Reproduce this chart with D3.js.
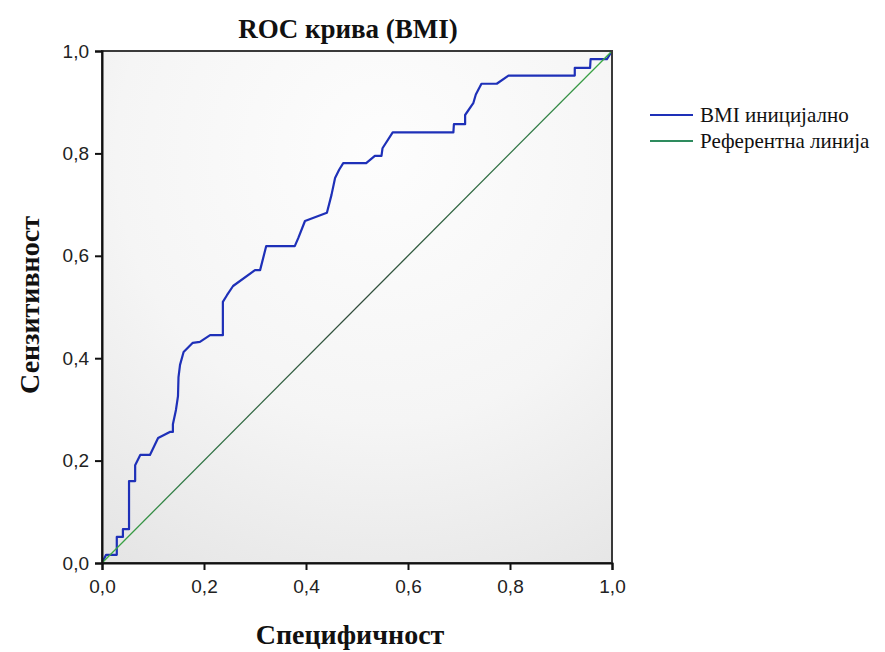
<!DOCTYPE html>
<html><head><meta charset="utf-8">
<script src="https://cdn.jsdelivr.net/npm/d3@7/dist/d3.min.js"></script>
<style>body{margin:0;background:#fff}svg{display:block}</style>
</head><body>
<svg id="c" width="885" height="652"></svg>
<script>
const title = "ROC крива (BMI)";
const xLabel = "Специфичност";
const yLabel = "Сензитивност";
const seriesNames = ["BMI иницијално", "Референтна линија"];
const tickValues = [0, 0.2, 0.4, 0.6, 0.8, 1.0];
const tickLabels = ["0,0", "0,2", "0,4", "0,6", "0,8", "1,0"];
// ROC curve points: [1 - specificity, sensitivity]
const rocX = [0,0.008,0.008,0.029,0.029,0.041,0.041,0.053,0.053,0.065,0.065,0.075,0.094,0.110,0.133,0.139,0.139,0.145,0.149,0.150,0.153,0.160,0.178,0.192,0.212,0.237,0.237,0.245,0.257,0.300,0.310,0.322,0.378,0.385,0.398,0.441,0.450,0.457,0.465,0.473,0.518,0.535,0.548,0.550,0.570,0.689,0.690,0.712,0.712,0.728,0.733,0.744,0.774,0.797,0.927,0.927,0.957,0.958,0.990,1.0];
const rocY = [0,0.016,0.016,0.016,0.051,0.051,0.066,0.066,0.160,0.160,0.191,0.211,0.211,0.244,0.256,0.256,0.271,0.299,0.326,0.363,0.387,0.412,0.430,0.432,0.445,0.445,0.510,0.523,0.541,0.572,0.572,0.619,0.619,0.635,0.668,0.684,0.719,0.752,0.768,0.781,0.781,0.795,0.795,0.810,0.841,0.841,0.857,0.857,0.875,0.898,0.915,0.936,0.936,0.952,0.952,0.967,0.967,0.984,0.984,1.0];
const refX = [0, 1];
const refY = [0, 1];

const svg = d3.select("#c");
const M = {l:102, t:51, r:612, b:563};
const x = d3.scaleLinear().domain([0,1]).range([M.l, M.r]);
const y = d3.scaleLinear().domain([0,1]).range([M.b, M.t]);

const defs = svg.append("defs");
const bg = defs.append("radialGradient").attr("id","bg")
  .attr("cx","0.55").attr("cy","0.2").attr("r","0.95");
bg.append("stop").attr("offset","0").attr("stop-color","#fdfdfd");
bg.append("stop").attr("offset","0.55").attr("stop-color","#f5f5f5");
bg.append("stop").attr("offset","1").attr("stop-color","#e5e5e5");
const rg = defs.append("linearGradient").attr("id","refg")
  .attr("gradientUnits","userSpaceOnUse")
  .attr("x1",x(0)).attr("y1",y(0)).attr("x2",x(1)).attr("y2",y(1));
rg.append("stop").attr("offset","0").attr("stop-color","#3cb043");
rg.append("stop").attr("offset","0.15").attr("stop-color","#2f7a45");
rg.append("stop").attr("offset","0.5").attr("stop-color","#2f4a3a");
rg.append("stop").attr("offset","0.85").attr("stop-color","#2f7a45");
rg.append("stop").attr("offset","1").attr("stop-color","#3cb043");

svg.append("rect").attr("x",M.l).attr("y",M.t).attr("width",M.r-M.l).attr("height",M.b-M.t)
  .attr("fill","url(#bg)");

const refData = refX.map((v,i)=>[v, refY[i]]);
const rocData = rocX.map((v,i)=>[v, rocY[i]]);
const line = d3.line().x(d=>x(d[0])).y(d=>y(d[1]));

svg.append("path").datum(rocData).attr("d",line).attr("fill","none")
  .attr("stroke","#1e30b8").attr("stroke-width",2.2).attr("stroke-linejoin","round");
svg.append("path").datum(refData).attr("d",line).attr("fill","none")
  .attr("stroke","url(#refg)").attr("stroke-width",1.3);

// frame
svg.append("rect").attr("x",M.l).attr("y",M.t).attr("width",M.r-M.l).attr("height",M.b-M.t)
  .attr("fill","none").attr("stroke","#3a3a3a").attr("stroke-width",2);

const xAxis = d3.axisBottom(x).tickValues(tickValues).tickFormat((d,i)=>tickLabels[i]).tickSize(7).tickPadding(10);
const yAxis = d3.axisLeft(y).tickValues(tickValues).tickFormat((d,i)=>tickLabels[i]).tickSize(7).tickPadding(6);
const gx = svg.append("g").attr("transform",`translate(0,${M.b})`).call(xAxis);
const gy = svg.append("g").attr("transform",`translate(${M.l},0)`).call(yAxis);
[gx,gy].forEach(g=>{
  g.select(".domain").attr("stroke","#111").attr("stroke-width",2);
  g.selectAll(".tick line").attr("stroke","#111").attr("stroke-width",2);
  g.selectAll(".tick text").attr("fill","#222").style("font-family","'Liberation Sans', Arial, sans-serif").style("font-size","19px");
});

svg.append("text").attr("x",348).attr("y",38).attr("text-anchor","middle")
  .style("font-family","'Liberation Serif', 'Times New Roman', serif").style("font-weight","bold").style("font-size","27px")
  .attr("fill","#111").text(title);
svg.append("text").attr("x",350).attr("y",644).attr("text-anchor","middle")
  .style("font-family","'Liberation Serif', 'Times New Roman', serif").style("font-weight","bold").style("font-size","28px")
  .attr("fill","#111").text(xLabel);
svg.append("text").attr("transform","translate(39,305) rotate(-90)").attr("text-anchor","middle")
  .style("font-family","'Liberation Serif', 'Times New Roman', serif").style("font-weight","bold").style("font-size","28px")
  .attr("fill","#111").text(yLabel);

const legColors = ["#1e30b8", "#2e8b5e"];
const lg = svg.append("g");
seriesNames.forEach((n,i)=>{
  const yy = 115 + i*26;
  lg.append("line").attr("x1",650).attr("x2",693).attr("y1",yy).attr("y2",yy)
    .attr("stroke",legColors[i]).attr("stroke-width",2);
  lg.append("text").attr("x",700).attr("y",yy).attr("dy","0.35em")
    .style("font-family","'Liberation Serif', 'Times New Roman', serif").style("font-size","21px")
    .attr("fill","#111").text(n);
});
</script>
</body></html>
